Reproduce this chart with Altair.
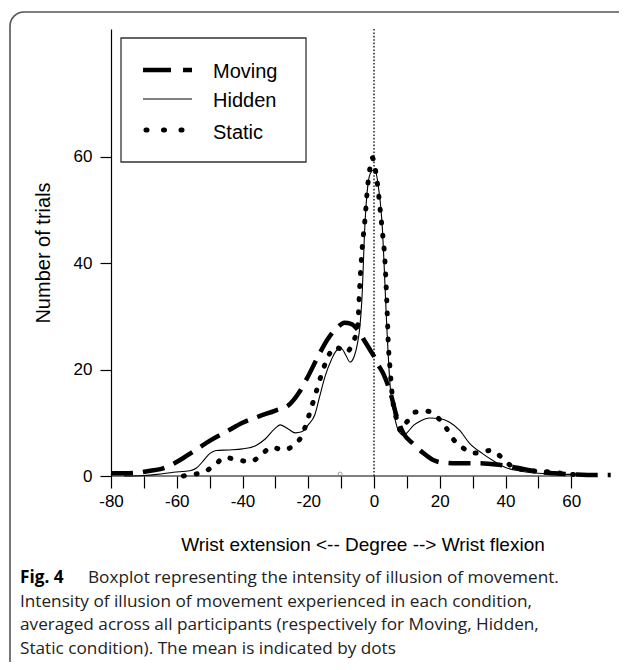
import altair as alt
import pandas as pd

# ---------------- data ----------------
series_names = ["Moving", "Hidden", "Static"]

moving_x = [-80, -76, -72, -68, -65, -62, -59, -55, -50, -45, -40, -35, -30, -26, -23, -20, -17, -14, -11, -9,
            -7, -5, -3, -1, 0, 1, 3, 5, 7, 9, 12, 15, 18, 20, 25, 32, 38, 44, 50, 55, 60, 65, 72]
moving_y = [0.5, 0.5, 0.6, 1.0, 1.3, 2.0, 3.0, 4.6, 6.6, 8.3, 10.0, 11.2, 12.3, 13.3, 15.5, 18.8, 22.5, 25.8, 28.0, 28.8,
            28.6, 27.5, 25.5, 23.5, 22.5, 21.2, 19.0, 15.6, 11.0, 8.0, 6.0, 4.3, 3.0, 2.6, 2.4, 2.4, 2.1, 1.5, 0.8, 0.5,
            0.3, 0.2, 0.2]

hidden_x = [-76, -70, -66, -61, -56, -54, -52, -50, -48, -44, -40, -36, -33, -30, -28.5, -26, -24, -22, -20, -18,
            -16.5, -15, -13, -11.5, -10, -8.5, -7.3, -6, -5, -4.3, -3.7, -2.7, -1.8, -1, 0, 0.6, 1.2, 2.4, 3.9, 4.3,
            5, 6, 7, 8, 9, 10, 12, 14, 17, 20, 23, 26, 29, 33, 37, 40, 44, 48, 54, 60]
hidden_y = [0, 0.1, 0.3, 0.7, 1.0, 1.5, 2.8, 4.2, 4.8, 4.9, 5.1, 5.7, 7.0, 9.0, 9.6, 8.8, 8.1, 8.3, 9.6, 11.5,
            15, 18.5, 21.8, 23.5, 24, 22.6, 21.4, 22.5, 25, 28, 33, 48, 55, 57, 57.5, 57, 55, 48, 28, 23,
            16.2, 12, 9.2, 8.0, 7.6, 8.1, 9.5, 10.3, 10.9, 10.8, 10.1, 8.6, 6.2, 4.2, 2.6, 1.6, 1.0, 0.6, 0.4, 0.3]

static_x = [-58, -55, -51.5, -48, -45.5, -41.5, -37.5, -34, -31, -27.7, -24, -22, -20, -17.5, -15.5, -13.5, -12, -10,
            -8.5, -6.5, -5, -4.3, -3.7, -2.7, -2, -1.2, -0.5, 0.3, 0.9, 1.8, 2.4, 3.3, 4, 4.3, 4.9, 5.8, 7.3, 8, 9,
            10.5, 12.5, 16, 19.5, 22, 24, 27, 30.5, 33, 35.5, 39, 42, 46.5, 52.5, 58.7, 62]
static_y = [0, 0.3, 0.8, 2.3, 3.5, 3.0, 2.7, 4.2, 5.4, 4.9, 6.0, 7.5, 11.0, 16, 20, 23, 24.2, 23.8,
            23.2, 25, 28, 36, 42, 48.5, 54, 58, 59.8, 58, 55.6, 50.5, 46.8, 40.6, 31, 25.6, 20, 13.7, 10, 8.5, 9.5,
            10.5, 12, 12.2, 10.9, 9.0, 7.0, 5.3, 4.3, 4.5, 4.8, 3.4, 1.8, 1.1, 0.8, 0.4, 0.2]

mean_x = [-10.3]
mean_y = [0.35]

x_ticks = [-80, -70, -60, -50, -40, -30, -20, -10, 0, 10, 20, 30, 40, 50, 60]
y_ticks = [0, 20, 40, 60]
x_domain = [-80, 73]
y_domain = [0, 84]

x_title = "Wrist extension  <--  Degree  --> Wrist flexion"
y_title = "Number of trials"
caption_bold = "Fig. 4"
caption_lines = [
    "Boxplot representing the intensity of illusion of movement.",
    "Intensity of illusion of movement experienced in each condition,",
    "averaged across all participants (respectively for Moving, Hidden,",
    "Static condition). The mean is indicated by dots",
]

# ---------------- tables ----------------
rows = []
for name, xs, ys in [("Moving", moving_x, moving_y), ("Hidden", hidden_x, hidden_y), ("Static", static_x, static_y)]:
    for i, (a, b) in enumerate(zip(xs, ys)):
        rows.append({"series": name, "deg": a, "val": b, "order": i})
df = pd.DataFrame(rows)
df_mean = pd.DataFrame({"deg": mean_x, "val": mean_y})

W, H = 503, 447
FONT = "Liberation Sans"
CAP_FONT = "Open Sans"
CAP_SIZE = 17.2

xscale = alt.Scale(domain=x_domain, nice=False, zero=False)
yscale = alt.Scale(domain=y_domain, nice=False)

xaxis = alt.Axis(values=x_ticks, labelExpr="datum.value % 20 == 0 ? '' + datum.value : ''",
                 domain=False, tickSize=12, tickColor="black", tickWidth=1.2, labelPadding=5,
                 labelFont=FONT, labelFontSize=17, labelColor="black", labelAngle=0,
                 labelFlush=False, labelOverlap=False, grid=False,
                 title=x_title, titleFont=FONT, titleFontSize=19, titleFontWeight="normal",
                 titleColor="black", titleBaseline="middle", titleX=W / 2, titleY=68)
yaxis = alt.Axis(values=y_ticks, domain=True, domainColor="black", domainWidth=1.2,
                 tickSize=11, tickColor="black", tickWidth=1.2, labelPadding=8,
                 labelFont=FONT, labelFontSize=17, labelColor="black", grid=False,
                 title=y_title, titleFont=FONT, titleFontSize=20, titleFontWeight="normal",
                 titleColor="black", titleAngle=270, titleBaseline="middle", titleX=-68, titleY=H / 2)


def one():
    return alt.Chart(alt.Data(values=[{"k": 0}]))


def X(field="deg"):
    return alt.X(f"{field}:Q", scale=xscale, axis=xaxis)


def Y(field="val"):
    return alt.Y(f"{field}:Q", scale=yscale, axis=yaxis)


base = alt.Chart(df)

moving = base.transform_filter(alt.datum.series == "Moving").mark_line(
    color="black", strokeWidth=4.5, strokeDash=[22, 10], interpolate="monotone"
).encode(x=X(), y=Y(), order="order:Q")

hidden = base.transform_filter(alt.datum.series == "Hidden").mark_line(
    color="black", strokeWidth=1.1, interpolate="monotone"
).encode(x=X(), y=Y(), order="order:Q")

static = base.transform_filter(alt.datum.series == "Static").mark_line(
    color="black", strokeWidth=5, strokeDash=[1, 12], strokeCap="round", interpolate="monotone"
).encode(x=X(), y=Y(), order="order:Q")

# x-axis baseline from -80 to 60 and dotted zero line
axis_line = alt.Chart(pd.DataFrame({"deg": [x_ticks[0]], "deg2": [x_ticks[-1]], "val": [0]})).mark_rule(
    color="black", strokeWidth=1.2
).encode(x=X(), x2="deg2:Q", y=Y())

zero_line = alt.Chart(pd.DataFrame({"deg": [0], "val": [y_domain[0]], "val2": [y_domain[1]]})).mark_rule(
    color="black", strokeWidth=1.3, strokeDash=[1.6, 1.8]
).encode(x=X(), y=Y(), y2="val2:Q")

mean_pt = alt.Chart(df_mean).mark_point(shape="circle", size=16, filled=False, color="#777", strokeWidth=1).encode(
    x=X(), y=Y())

# legend box (decoration)
leg_box = one().mark_rect(fill="white", stroke="#333", strokeWidth=1.3).encode(
    x=alt.value(10), x2=alt.value(195), y=alt.value(9), y2=alt.value(133))
leg_mov = one().mark_rule(color="black", strokeWidth=4.5, strokeDash=[28, 12]).encode(
    x=alt.value(32), x2=alt.value(81), y=alt.value(41))
leg_hid = one().mark_rule(color="black", strokeWidth=1.1).encode(
    x=alt.value(32), x2=alt.value(81), y=alt.value(70))
leg_sta = one().mark_rule(color="black", strokeWidth=5, strokeDash=[1, 16.5], strokeCap="round").encode(
    x=alt.value(35), x2=alt.value(75), y=alt.value(101))
leg_text = []
for name, yy in zip(series_names, [43, 72, 104]):
    leg_text.append(one().mark_text(text=name, align="left", baseline="middle", font=FONT, fontSize=20,
                                    color="black").encode(x=alt.value(102), y=alt.value(yy)))

# figure frame
frame = one().mark_rect(fill=None, stroke="#555", strokeWidth=1.6, cornerRadius=14).encode(
    x=alt.value(-101), x2=alt.value(540), y=alt.value(-17), y2=alt.value(720))

# caption
cap_y = [549, 572.5, 596, 619.5]
cap = [one().mark_text(text=caption_bold, align="left", baseline="middle", font=CAP_FONT, fontSize=CAP_SIZE,
                       fontWeight="bold", color="black").encode(x=alt.value(-91), y=alt.value(cap_y[0]))]
for txt, xx, yy in zip(caption_lines, [-23, -91, -91, -91], cap_y):
    cap.append(one().mark_text(text=txt, align="left", baseline="middle", font=CAP_FONT, fontSize=CAP_SIZE,
                               color="#222").encode(x=alt.value(xx), y=alt.value(yy)))

chart = alt.layer(
    frame, moving, axis_line, zero_line, hidden, static, mean_pt, leg_box, leg_mov, leg_hid, leg_sta,
    *leg_text, *cap
).properties(
    width=W, height=H,
    autosize=alt.AutoSizeParams(type="none"),
    padding={"left": 103, "top": 21, "right": 5, "bottom": 186},
    background="white",
).configure_view(stroke=None)

chart.save("out.html", embed_options={"renderer": "svg", "actions": False})
